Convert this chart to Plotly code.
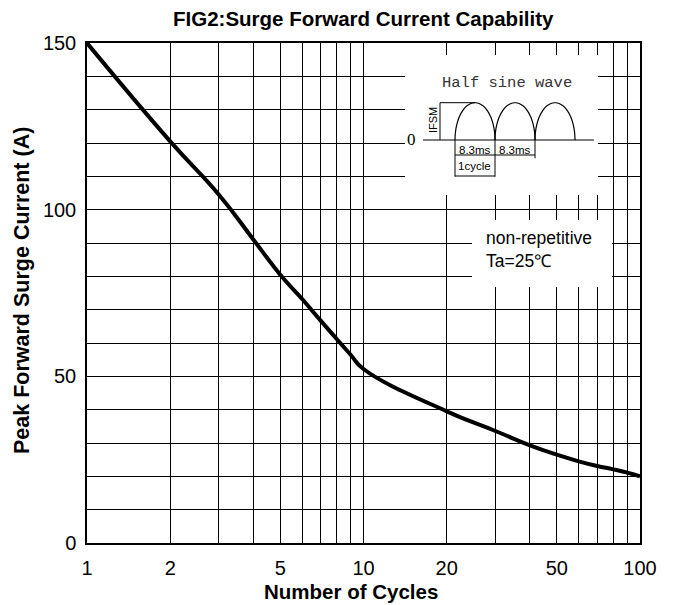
import numpy as np
import plotly.graph_objects as go

# ---- data ----
cycles = [1, 2, 3, 4, 5, 6, 7, 8, 9, 10, 20, 30, 40, 50, 60, 70, 80, 90, 100]
current = [150, 120.5, 104.5, 91, 80.5, 73.2, 66.7, 61.2, 56.4, 52.2,
           39.5, 33.6, 29.3, 26.5, 24.5, 23.1, 22.1, 21.1, 20]
x_major = [1, 2, 5, 10, 20, 50, 100]
x_minor = [3, 4, 6, 7, 8, 9, 30, 40, 60, 70, 80, 90]
y_major = [0, 50, 100, 150]

W, H = 676, 605
L, R, T, B = 87, 640, 43, 543
PW, PH = R - L, B - T


def px(x):
    return (x - L) / PW


def py(y):
    return (B - y) / PH


fig = go.Figure()
fig.add_trace(go.Scatter(
    x=cycles, y=current, mode="lines",
    line=dict(color="black", width=4, shape="spline", smoothing=1.3),
    hoverinfo="skip", showlegend=False))

FONT = "Liberation Sans, Arial, sans-serif"

fig.update_layout(
    width=W, height=H,
    margin=dict(l=L, r=W - R, t=T, b=H - B),
    paper_bgcolor="white", plot_bgcolor="white",
    showlegend=False,
    font=dict(family=FONT, color="black", size=20),
    xaxis=dict(
        type="log", range=[0, 2],
        tickvals=x_major, ticktext=[str(v) for v in x_major],
        showgrid=True, gridcolor="black", gridwidth=1,
        minor=dict(tickvals=x_minor, showgrid=True, gridcolor="black", gridwidth=1),
        showline=True, mirror=True, linecolor="black", linewidth=1.5,
        zeroline=False, ticks="", ticklabelstandoff=6,
        tickfont=dict(size=20, family=FONT, color="black"),
    ),
    yaxis=dict(
        range=[0, 150],
        tickvals=y_major,
        showgrid=True, gridcolor="black", gridwidth=1,
        minor=dict(dtick=10, showgrid=True, gridcolor="black", gridwidth=1),
        showline=True, mirror=True, linecolor="black", linewidth=1.5,
        zeroline=False, ticks="", ticklabelstandoff=5,
        tickfont=dict(size=20, family=FONT, color="black"),
    ),
)

shapes = []
# white masks over the grid
shapes.append(dict(type="rect", xref="paper", yref="paper",
                   x0=px(405), x1=px(598), y0=py(195), y1=py(55),
                   fillcolor="white", line=dict(width=0), layer="above"))
shapes.append(dict(type="rect", xref="paper", yref="paper",
                   x0=px(472), x1=px(612), y0=py(287), y1=py(220),
                   fillcolor="white", line=dict(width=0), layer="above"))


def seg(x0, y0, x1, y1):
    shapes.append(dict(type="line", xref="paper", yref="paper",
                       x0=px(x0), y0=py(y0), x1=px(x1), y1=py(y1),
                       line=dict(color="black", width=1), layer="above"))


base_y, peak_y = 140, 102.7
seg(423, base_y, 594, base_y)          # baseline
seg(440, peak_y, 440, base_y)          # IFSM bracket
seg(440, peak_y, 475, peak_y)
seg(455, base_y, 455, 176.7)
seg(495, base_y, 495, 176.7)
seg(535, base_y, 535, 158.3)
seg(455, 155, 535, 155)                # 8.3ms dimension
seg(455, 176, 495, 176)                # 1cycle dimension

# half sine arcs (schematic)
t = np.linspace(np.pi, 0, 40)
for x0 in (455, 495, 535):
    cx, a, h = x0 + 20, 20, base_y - peak_y
    xs = cx + a * np.cos(t)
    ys = base_y - h * np.sin(t)
    d = "M " + " L ".join(f"{px(xx):.5f},{py(yy):.5f}" for xx, yy in zip(xs, ys))
    shapes.append(dict(type="path", xref="paper", yref="paper", path=d,
                       line=dict(color="black", width=1.2), layer="above"))

fig.update_layout(shapes=shapes)

ann = []


def text(s, x, y, size, family=FONT, bold=False, angle=0, xanchor="center", color="black"):
    ann.append(dict(text=f"<b>{s}</b>" if bold else s, xref="paper", yref="paper",
                    x=px(x), y=py(y), xanchor=xanchor, yanchor="middle",
                    showarrow=False, textangle=angle,
                    font=dict(size=size, family=family, color=color)))


text("FIG2:Surge Forward Current Capability", 363, 19, 20.5, bold=True)
text("Number of Cycles", 350.5, 591, 20.5, bold=True)
text("Peak Forward Surge Current (A)", 22, 291, 21.5, bold=True, angle=-90)
text("Half sine wave", 507, 83, 15.5, family="Liberation Mono, Courier New, monospace", color="#333")
text("IFSM", 433, 120, 11, angle=-90)
text("0", 411, 140, 17, family="Liberation Serif, Times New Roman, serif")
text("8.3ms", 475, 149.5, 11.5)
text("8.3ms", 515, 149.5, 11.5)
text("1cycle", 475, 166, 11.5)
text("non-repetitive", 484, 238, 17.5, xanchor="left")
text("Ta=25℃", 484, 261, 17.5, xanchor="left")

fig.update_layout(annotations=ann)

fig.write_html("out.html",
               config={"displayModeBar": False},
               post_script="document.body.style.margin='0';document.body.style.overflow='hidden';")
